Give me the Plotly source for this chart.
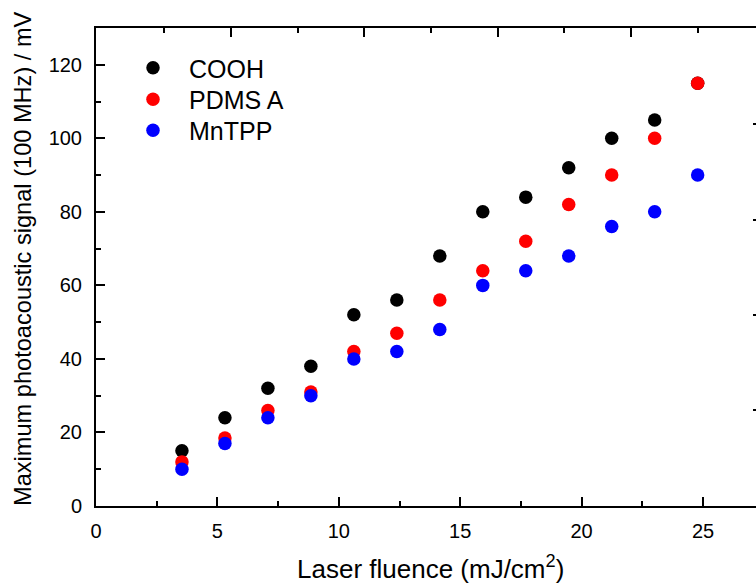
import plotly.graph_objects as go

# fluence (mJ/cm^2)
fluence = [3.54, 5.31, 7.08, 8.85, 10.62, 12.39, 14.16, 15.93, 17.70, 19.47, 21.24, 23.01, 24.78]
# maximum photoacoustic signal (mV)
cooh = [15, 24, 32, 38, 52, 56, 68, 80, 84, 92, 100, 105, 115]
pdms_a = [12, 18.5, 26, 31, 42, 47, 56, 64, 72, 82, 90, 100, 115]
mntpp = [10, 17, 24, 30, 40, 42, 48, 60, 64, 68, 76, 80, 90]

series = [("COOH", cooh, "#000000"), ("PDMS A", pdms_a, "#FF0000"), ("MnTPP", mntpp, "#0000FF")]

W, H = 756, 584
L, R, T, B = 96, 0, 28, 78
pw = W - L - R
ph = H - T - B
FONT = "Liberation Sans, Arial, sans-serif"
LEG_FONT = 25
row_centers = [68.5, 100, 131]
legend_names = ["legend", "legend2", "legend3"]

fig = go.Figure()
for (name, vals, col), lg in zip(series, legend_names):
    fig.add_trace(go.Scatter(x=fluence, y=vals, mode="markers", name=name, legend=lg,
                             marker=dict(size=13.5, color=col, line=dict(width=0))))

# dummy trace to activate decorative frame axes (top / right of cropped panel)
fig.add_trace(go.Scatter(x=[], y=[], xaxis="x2", yaxis="y2", showlegend=False, hoverinfo="skip"))

axis_common = dict(showline=True, linewidth=2, linecolor="black", ticks="inside",
                   tickwidth=2, ticklen=9, tickcolor="black", showgrid=False, zeroline=False,
                   tickfont=dict(family=FONT, size=20, color="black"))

legends = {}
for lg, c in zip(legend_names, row_centers):
    legends[lg] = dict(x=(117 - L) / pw, y=(H - B - (c - 23.5)) / ph,
                       xanchor="left", yanchor="top",
                       bgcolor="rgba(0,0,0,0)", borderwidth=0, itemwidth=62,
                       font=dict(family=FONT, size=LEG_FONT, color="black"))

fig.update_layout(
    width=W, height=H,
    margin=dict(l=L, r=R, t=T, b=B, pad=0),
    paper_bgcolor="white", plot_bgcolor="white",
    font=dict(family=FONT, color="black"),
    showlegend=True,
    xaxis=dict(range=[0, pw / 24.28], dtick=5, tick0=0,
               minor=dict(dtick=2.5, ticks="inside", ticklen=5, tickwidth=2, tickcolor="black"),
               ticklabelstandoff=6, **axis_common),
    yaxis=dict(range=[0, 130], dtick=20, tick0=0,
               minor=dict(dtick=10, ticks="inside", ticklen=5, tickwidth=2, tickcolor="black"),
               ticklabelstandoff=8, **axis_common),
    xaxis2=dict(overlaying="x", side="top", anchor="y", range=[0, pw], showline=True,
                linewidth=2, linecolor="black", ticks="inside", tickwidth=2, ticklen=9,
                tickcolor="black", tickmode="array", tickvals=[135, 268.3, 401.7, 535],
                showticklabels=False, showgrid=False, zeroline=False,
                minor=dict(tickmode="array", tickvals=[68, 201.7, 335, 468.3, 601.7],
                           ticks="inside", ticklen=5, tickwidth=2, tickcolor="black")),
    yaxis2=dict(overlaying="y", side="right", anchor="x", range=[0, ph], showline=False,
                ticks="inside", tickwidth=2, ticklen=3, tickcolor="black",
                tickmode="array", tickvals=[96, 191, 286, 382],
                showticklabels=False, showgrid=False, zeroline=False),
    annotations=[
        dict(text="Laser fluence (mJ/cm<sup>2</sup>)", xref="paper", yref="paper",
             x=(430 - L) / pw, y=-(567 - (H - B)) / ph, xanchor="center", yanchor="middle",
             showarrow=False, font=dict(family=FONT, size=26, color="black")),
        dict(text="Maximum photoacoustic signal (100 MHz) / mV", xref="paper", yref="paper",
             x=(23 - L) / pw, y=((H - B) - 259) / ph, xanchor="center", yanchor="middle",
             textangle=-90, showarrow=False, font=dict(family=FONT, size=23.6, color="black")),
    ],
    **legends,
)

fig.write_html("out.html")
